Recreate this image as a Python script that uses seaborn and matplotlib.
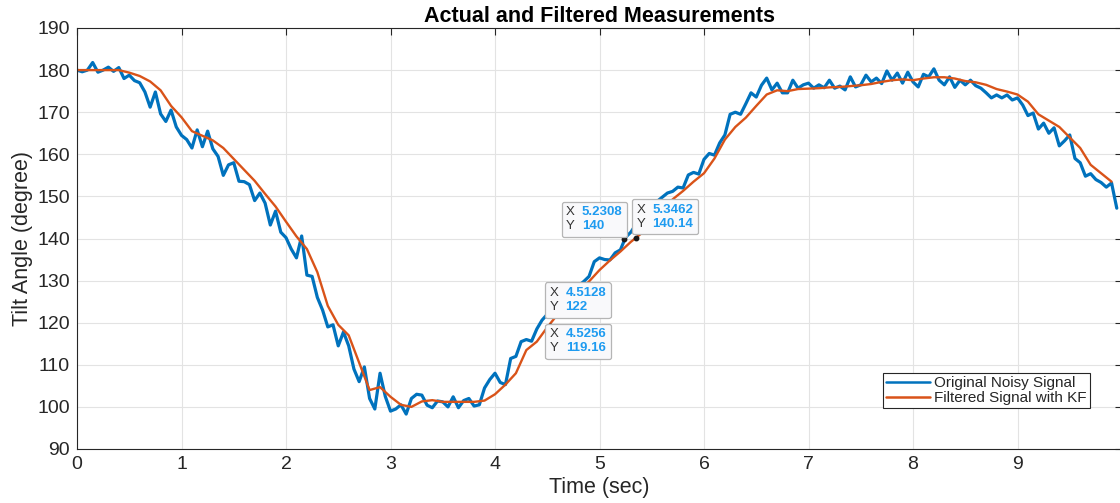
import numpy as np
import pandas as pd
import matplotlib
matplotlib.use("Agg")
import matplotlib.pyplot as plt
import seaborn as sns
from matplotlib.offsetbox import TextArea, HPacker, AnnotationBbox

# ---------------- data ----------------
noisy_t = [round(i * 0.05, 2) for i in range(200)]
noisy_y = [
    180.0, 179.6, 180.0, 181.8, 179.5, 180.0, 180.7, 179.7, 180.6, 178.0,
    178.8, 177.5, 177.0, 174.8, 171.2, 174.8, 169.6, 167.8, 170.5, 166.5,
    164.5, 163.5, 161.5, 165.8, 161.8, 165.5, 161.3, 159.5, 155.0, 157.5,
    158.0, 153.6, 153.5, 152.8, 149.0, 150.8, 148.4, 143.2, 146.5, 141.5,
    140.2, 137.5, 135.4, 140.6, 131.3, 131.0, 126.0, 123.0, 119.0, 119.5,
    114.5, 117.8, 114.5, 109.0, 106.0, 109.5, 102.0, 99.5, 108.0, 102.5,
    99.0, 99.5, 100.5, 98.3, 102.0, 103.0, 102.8, 100.4, 99.8, 101.4,
    101.2, 100.0, 102.4, 99.8, 101.5, 102.0, 100.2, 100.5, 104.5, 106.5,
    108.0, 105.8, 105.3, 111.5, 112.0, 115.5, 116.0, 115.6, 118.5, 120.6,
    122.0, 123.5, 125.0, 126.0, 127.0, 127.8, 128.8, 129.8, 131.0, 134.5,
    135.4, 135.0, 134.9, 136.6, 137.3, 140.3, 141.5, 143.4, 145.5, 146.5,
    147.5, 148.8, 149.8, 150.8, 151.2, 152.2, 152.0, 155.1, 155.7, 155.3,
    158.8, 160.2, 159.8, 162.7, 164.6, 169.5, 170.0, 169.5, 172.0, 174.6,
    173.6, 176.4, 178.1, 175.3, 176.9, 174.6, 174.6, 177.6, 175.7, 176.5,
    176.9, 175.7, 176.5, 175.8, 177.6, 175.7, 176.2, 175.3, 178.4, 176.0,
    176.5, 178.8, 177.2, 178.1, 176.8, 179.8, 177.6, 179.3, 176.9, 179.5,
    177.2, 176.0, 179.0, 178.4, 180.3, 177.6, 176.5, 178.4, 175.9, 177.6,
    176.5, 177.6, 176.3, 175.7, 174.6, 173.4, 174.1, 173.4, 174.1, 172.9,
    173.4, 171.7, 169.2, 169.8, 166.0, 167.4, 165.0, 166.3, 162.0, 163.2,
    164.6, 159.0, 158.0, 154.8, 155.4, 154.0, 153.3, 152.2, 153.2, 147.2,
]

filt_t = [round(i * 0.1, 1) for i in range(100)]
filt_y = [
    180.0, 180.0, 180.0, 180.0, 180.0, 179.4, 178.6, 177.3, 175.2, 171.5,
    168.8, 165.5, 164.4, 163.3, 161.5, 158.9, 156.3, 153.7, 150.6, 147.6,
    144.0, 140.5, 137.5, 132.0, 124.0, 119.5, 117.0, 110.5, 104.0, 104.7,
    102.4, 100.5, 100.0, 101.3, 101.6, 101.2, 101.2, 101.2, 101.2, 101.5,
    103.0, 105.3, 108.0, 113.5, 115.5, 118.9, 122.0, 125.0, 127.5, 129.8,
    132.5, 134.8, 136.9, 139.2, 141.2, 143.5, 146.5, 149.3, 151.3, 153.5,
    155.5, 159.0, 163.5, 166.5, 168.7, 171.5, 174.2, 175.2, 175.0, 175.5,
    175.6, 175.7, 175.9, 176.0, 176.2, 176.4, 176.7, 177.2, 177.6, 177.8,
    177.6, 178.0, 178.3, 178.3, 178.0, 177.4, 177.1, 176.5, 175.5, 174.9,
    174.2, 172.5, 169.5, 168.0, 166.5, 164.0, 161.5, 157.5, 155.5, 153.5,
]

x_ticks = [0, 1, 2, 3, 4, 5, 6, 7, 8, 9]
y_ticks = [90, 100, 110, 120, 130, 140, 150, 160, 170, 180, 190]

tip_x = [5.2308, 5.3462, 4.5128, 4.5256]
tip_y = [140, 140.14, 122, 119.16]
tip_xlbl = ["5.2308", "5.3462", "4.5128", "4.5256"]
tip_ylbl = ["140", "140.14", "122", "119.16"]

noisy_df = pd.DataFrame({"t": noisy_t, "y": noisy_y})
filt_df = pd.DataFrame({"t": filt_t, "y": filt_y})

# ---------------- style ----------------
sns.set_theme(style="whitegrid")
plt.rcParams["font.family"] = ["Liberation Sans", "DejaVu Sans"]
plt.rcParams["axes.edgecolor"] = "#262626"

BLUE = "#0072BD"
ORANGE = "#D95319"
TXT = "#262626"

fig = plt.figure(figsize=(11.2, 5.03), dpi=100)
ax = fig.add_axes([77 / 1120, 54 / 503, 1045 / 1120, 421 / 503])
ax.set_facecolor("white")

sns.lineplot(data=noisy_df, x="t", y="y", ax=ax, color=BLUE, lw=2.3,
             estimator=None, label="Original Noisy Signal")
sns.lineplot(data=filt_df, x="t", y="y", ax=ax, color=ORANGE, lw=1.7,
             estimator=None, label="Filtered Signal with KF")

ax.set_xlim(0, 10)
ax.set_ylim(90, 190)
ax.set_xticks(x_ticks)
ax.set_yticks(y_ticks)
ax.grid(True, color="#E3E3E3", lw=0.8)
for s in ax.spines.values():
    s.set_color("#262626")
    s.set_linewidth(0.8)
ax.tick_params(direction="in", length=5, width=0.8, colors="#262626",
               top=True, right=True, labelsize=14, pad=5)
for lbl in ax.get_xticklabels() + ax.get_yticklabels():
    lbl.set_color(TXT)

ax.set_xlabel("Time (sec)", fontsize=15.5, color=TXT, labelpad=3)
ax.set_ylabel("Tilt Angle (degree)", fontsize=15.5, color=TXT, labelpad=3)
ax.set_title("Actual and Filtered Measurements", fontsize=15.5,
             fontweight="bold", color="black", pad=4)

leg = ax.legend(loc="lower right", bbox_to_anchor=(0.969, 0.097),
                fontsize=11, frameon=True, fancybox=False, framealpha=1,
                borderpad=0.2, handlelength=2.9, handletextpad=0.25,
                labelspacing=0.05, borderaxespad=0)
leg.get_frame().set_edgecolor("#262626")
leg.get_frame().set_linewidth(0.8)
for line in leg.get_lines():
    line.set_linewidth(1.8)

# ---------------- data tips ----------------
px = 0.72  # points per pixel
tip_layout = [
    ((1, 0), (-1 * px, 6 * px)),
    ((0, 0), (1 * px, 8 * px)),
    ((0, 0), (1 * px, 1 * px)),
    ((0, 1), (0 * px, -2 * px)),
]
for (tx, ty, xl, yl, (align, off)) in zip(tip_x, tip_y, tip_xlbl, tip_ylbl, tip_layout):
    ax.plot([tx], [ty], "o", color="#1a1a1a", ms=3.2, zorder=6)
    left = TextArea("X\nY", textprops=dict(color="#333333", fontsize=9.5,
                                           linespacing=1.25))
    right = TextArea(f"{xl}\n{yl}", textprops=dict(color="#1E9BF0", fontsize=9.5,
                                                   fontweight="bold",
                                                   linespacing=1.25))
    pack = HPacker(children=[left, right], align="baseline", pad=0, sep=5)
    ab = AnnotationBbox(pack, (tx, ty), xybox=off, xycoords="data",
                        boxcoords="offset points", box_alignment=align,
                        pad=0.3, frameon=True,
                        bboxprops=dict(boxstyle="round,pad=0.3,rounding_size=0.15",
                                       fc="#F9F9FB", ec="#B5B5B5", lw=0.9))
    ab.set_zorder(7)
    ax.add_artist(ab)

fig.savefig("out.png", dpi=100)
